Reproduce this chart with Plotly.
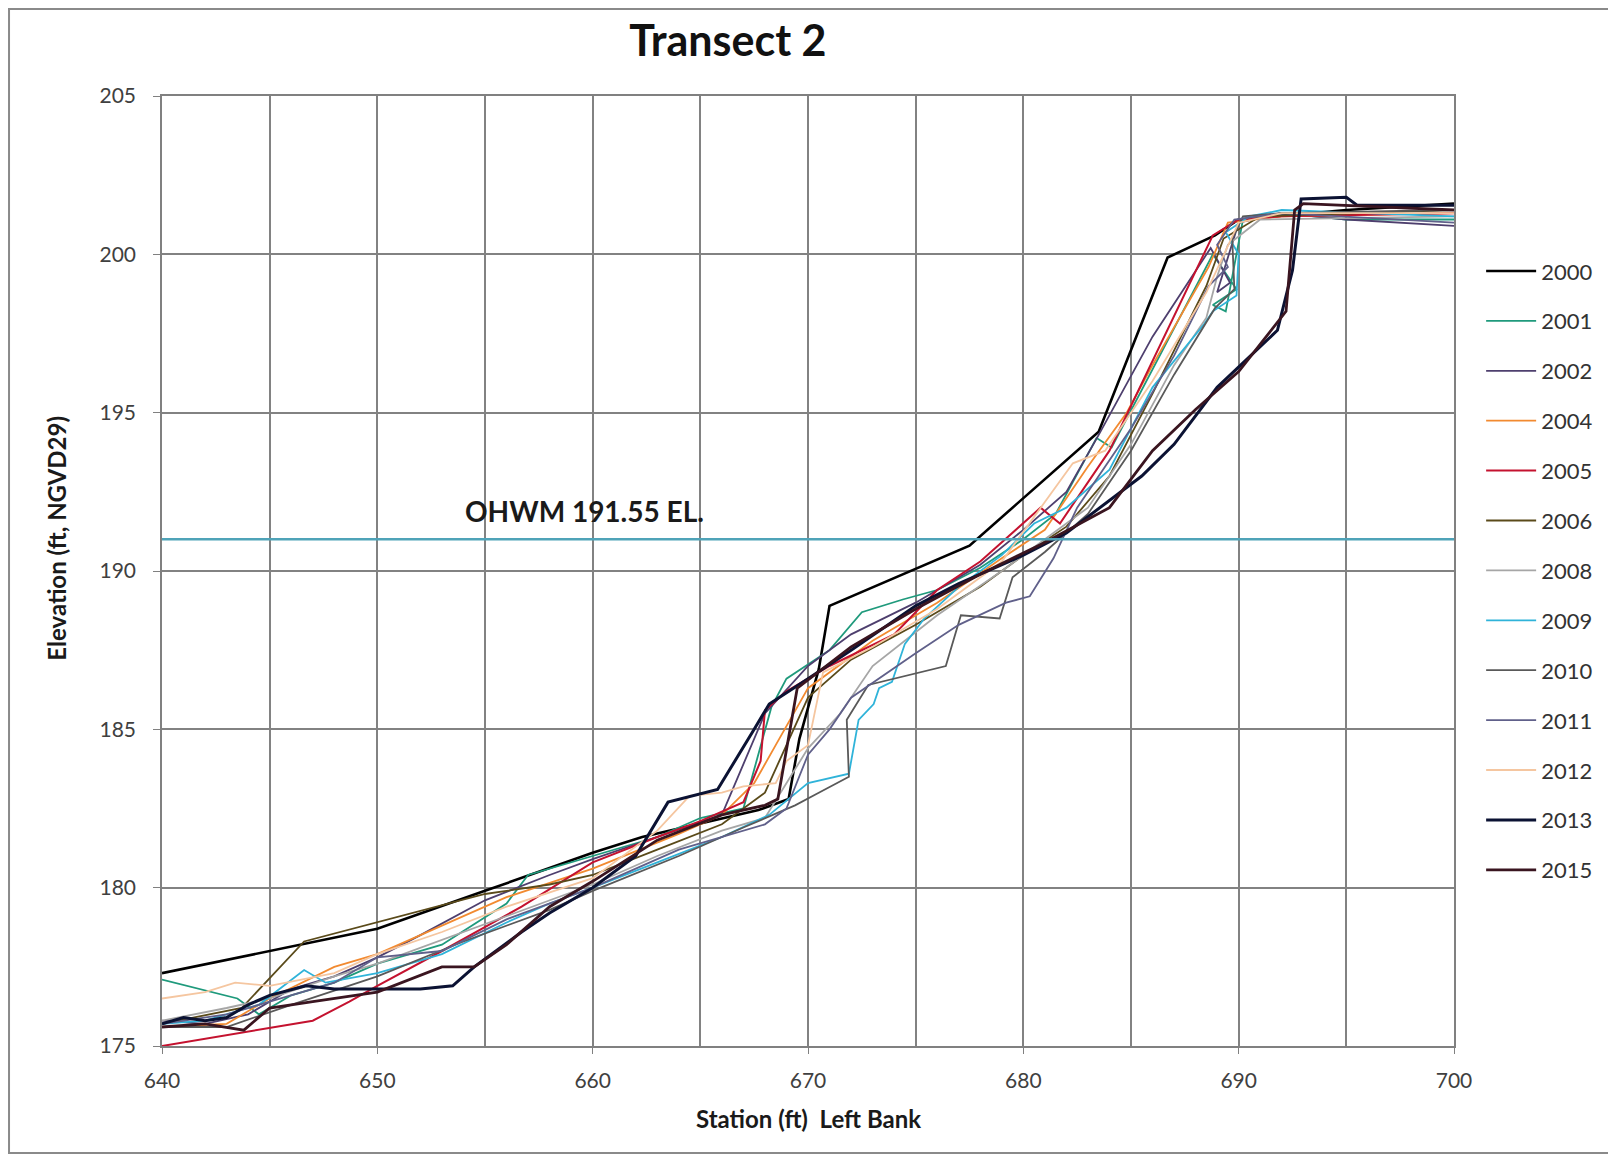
import plotly.graph_objects as go

# survey years and styling (Excel-like palette)
years = ["2000", "2001", "2002", "2004", "2005", "2006", "2008",
         "2009", "2010", "2011", "2012", "2013", "2015"]
colors = ["#000000", "#1f9a7c", "#4e3f6e", "#f28a30", "#c4122f", "#5a4a1a",
          "#a6a6a6", "#2fb3d9", "#595959", "#60608a", "#f5c6a0", "#0b1233", "#3a1520"]
widths = [2.6, 1.8, 1.8, 1.8, 2.0, 1.8, 1.8, 1.8, 1.8, 1.8, 1.8, 3.0, 2.8]

# station (ft) / elevation (ft) pairs per survey
st_2000 = [640, 650, 655, 660, 662.3, 667.7, 669.1, 669.6, 670.5, 671, 677.5, 683.5, 686.7, 688.9, 690, 695, 700]
el_2000 = [177.3, 178.7, 179.9, 181.1, 181.6, 182.45, 182.8, 184.7, 186.9, 188.9, 190.8, 194.4, 199.9, 200.6, 201.1, 201.4, 201.6]

st_2001 = [640, 643.5, 644.5, 646, 648, 650, 653, 656, 657, 660, 663, 665, 667, 668.3, 669, 671, 672.5, 674.4, 676, 678, 680, 681.5, 683.4, 684.1, 688.8, 689.9, 688.8, 689.4, 690.2, 692, 695, 700]
el_2001 = [177.1, 176.5, 176.0, 176.6, 177.0, 177.6, 178.2, 179.5, 180.4, 181.0, 181.6, 182.2, 182.5, 185.7, 186.6, 187.5, 188.7, 189.1, 189.4, 190.1, 191.0, 191.8, 194.2, 193.9, 200.0, 198.9, 198.4, 198.2, 201.1, 201.3, 201.1, 201.1]

st_2002 = [640, 642, 644, 646, 648, 650, 652, 655, 658, 660, 663, 666, 668, 670, 672, 675, 678, 680, 682, 683.5, 686, 688.7, 689.6, 689.0, 690, 692, 695, 700]
el_2002 = [175.8, 175.7, 176.0, 176.8, 177.2, 177.8, 178.5, 179.6, 180.4, 180.9, 181.6, 182.3, 185.5, 187.0, 188.0, 189.0, 190.2, 191.3, 192.5, 194.3, 197.4, 200.2, 199.1, 198.8, 201.0, 201.3, 201.1, 200.9]

st_2004 = [640, 643, 645, 648, 650, 653, 656, 660, 664, 666, 667.5, 668.5, 670, 673, 676, 679, 681, 683, 684.8, 686, 688.6, 689.5, 692, 700]
el_2004 = [175.6, 175.7, 176.5, 177.5, 177.9, 178.8, 179.7, 180.6, 181.7, 182.3, 183.3, 184.5, 186.3, 187.8, 189.0, 190.4, 191.3, 193.3, 195.0, 196.5, 199.6, 201.0, 201.2, 201.3]

st_2005 = [640, 644.5, 647, 648.7, 650, 653, 656.7, 660, 663, 665, 667, 667.8, 668, 669, 671, 674, 676, 678, 680.8, 681.7, 684, 688.8, 690, 692, 700]
el_2005 = [175.0, 175.5, 175.8, 176.4, 176.9, 178.0, 179.4, 180.8, 181.6, 182.1, 182.7, 184.0, 185.6, 186.2, 187.0, 188.0, 189.4, 190.3, 192.0, 191.5, 193.8, 200.6, 201.1, 201.2, 201.3]

st_2006 = [640, 643.7, 646.6, 650.5, 655, 658, 660, 663, 666, 668, 670, 672, 675, 678, 680, 682, 684, 686, 688.5, 689.3, 691, 700]
el_2006 = [175.7, 176.2, 178.3, 179.0, 179.8, 180.1, 180.4, 181.2, 182.0, 183.0, 186.0, 187.2, 188.3, 189.5, 190.5, 191.4, 193.0, 195.6, 199.0, 200.5, 201.2, 201.4]

st_2008 = [640, 643, 645, 648, 650, 654, 658, 660, 663, 666, 668, 670, 671.5, 673, 676, 679, 681, 683, 685, 687, 688.5, 689, 689.5, 691, 700]
el_2008 = [175.8, 176.2, 176.5, 177.2, 177.6, 178.6, 179.6, 180.1, 181.0, 181.8, 182.2, 184.4, 185.5, 187.0, 188.6, 190.0, 191.0, 192.0, 194.0, 196.5, 198.0, 199.3, 200.3, 201.1, 201.2]

st_2009 = [640, 642, 644.5, 646.6, 647.6, 650, 653, 656, 658, 660, 663, 666, 668.2, 670, 671.9, 672.35, 673.05, 673.3, 673.9, 674.5, 675.4, 677, 679, 680.5, 682, 684, 686, 688.4, 688.8, 689.9, 690.0, 689.4, 690.5, 692, 700]
el_2009 = [175.7, 175.8, 176.3, 177.4, 177.0, 177.3, 177.9, 178.9, 179.5, 180.0, 180.8, 181.6, 182.3, 183.3, 183.6, 185.3, 185.8, 186.3, 186.5, 187.7, 188.5, 189.5, 190.5, 191.5, 192.0, 193.2, 195.8, 197.8, 198.2, 198.7, 200.0, 200.7, 201.2, 201.4, 201.2]

st_2010 = [640, 643, 646, 650, 654, 658, 660, 664, 667, 669.4, 670.5, 671.9, 671.8, 672.8, 676.4, 677.1, 678.9, 679.5, 681, 683, 685, 687, 688.9, 689.8, 689.7, 690.2, 692, 700]
el_2010 = [175.6, 175.6, 176.3, 177.2, 178.3, 179.3, 179.9, 181.0, 181.9, 182.6, 183.0, 183.5, 185.3, 186.4, 187.0, 188.6, 188.5, 189.8, 190.6, 191.8, 193.8, 196.2, 198.3, 198.9, 200.5, 201.2, 201.3, 201.4]

st_2011 = [640, 643, 645, 648, 650, 653, 656, 660, 664, 668, 669, 670, 671, 672, 675, 677, 679.2, 680.3, 681.4, 682.5, 685, 687, 688.6, 689.5, 689.0, 689.8, 692, 700]
el_2011 = [175.7, 176.0, 176.4, 177.0, 177.8, 178.0, 179.0, 180.0, 181.2, 182.0, 182.5, 184.2, 185.0, 186.0, 187.4, 188.3, 189.0, 189.2, 190.4, 192.0, 194.5, 196.8, 199.0, 199.6, 200.3, 201.1, 201.3, 201.0]

st_2012 = [640, 642, 643.4, 645, 648, 650, 653, 656, 660, 663, 664.5, 666, 667, 668.5, 669, 670, 670.7, 673, 676, 679, 682.3, 683.8, 686, 688.5, 690, 692, 700]
el_2012 = [176.5, 176.7, 177.0, 176.9, 177.3, 177.9, 178.6, 179.4, 180.3, 181.8, 182.9, 183.0, 183.2, 183.3, 184.0, 184.5, 186.8, 187.6, 188.8, 190.3, 193.4, 193.8, 196.0, 198.8, 201.0, 201.3, 201.3]

st_2013 = [640, 641, 642, 643, 644, 645, 646.7, 648, 650, 652, 653.5, 654.5, 656.7, 658, 660, 662, 663.5, 665.8, 667.5, 668.2, 670, 672, 675, 677, 680, 682, 685.5, 687, 689, 691.8, 692.5, 692.9, 695, 695.5, 700]
el_2013 = [175.7, 175.9, 175.8, 175.9, 176.3, 176.6, 176.9, 176.8, 176.8, 176.8, 176.9, 177.5, 178.6, 179.2, 180.0, 181.0, 182.7, 183.1, 185.0, 185.8, 186.6, 187.5, 188.9, 189.6, 190.5, 191.2, 193.0, 194.0, 195.8, 197.6, 199.5, 201.75, 201.8, 201.55, 201.55]

st_2015 = [640, 642, 643.8, 645, 647, 650, 653, 654.5, 656, 658, 660, 663, 666, 668, 668.6, 669.5, 672, 675, 678, 681, 684, 686, 688, 690, 692.2, 692.6, 693, 700]
el_2015 = [175.6, 175.7, 175.5, 176.2, 176.4, 176.7, 177.5, 177.5, 178.2, 179.4, 180.2, 181.5, 182.3, 182.6, 182.8, 186.3, 187.6, 188.8, 189.9, 190.9, 192.0, 193.8, 195.1, 196.3, 198.2, 201.4, 201.6, 201.4]

stations = [st_2000, st_2001, st_2002, st_2004, st_2005, st_2006, st_2008,
            st_2009, st_2010, st_2011, st_2012, st_2013, st_2015]
elevations = [el_2000, el_2001, el_2002, el_2004, el_2005, el_2006, el_2008,
              el_2009, el_2010, el_2011, el_2012, el_2013, el_2015]

ohwm_level = 191.0
ohwm_label = "OHWM 191.55 EL."
ohwm_label_x = 654.0
ohwm_label_y = 191.9

x_ticks = [640, 650, 660, 670, 680, 690, 700]
y_ticks = [175, 180, 185, 190, 195, 200, 205]

FONT = "Lato, 'Open Sans', sans-serif"
GRID = "#828282"
TXT = "#1a1a1a"

fig = go.Figure()

for yr, st, el, c, w in zip(years, stations, elevations, colors, widths):
    fig.add_trace(go.Scatter(
        x=st,
        y=el,
        mode='lines',
        line=dict(color=c, width=w),
        name=yr,
        legendgroup=yr
    ))

# ordinary high water mark
fig.add_hline(y=ohwm_level, line=dict(color="#4fa3b8", width=2.5), layer="above")
fig.add_annotation(
    x=ohwm_label_x, y=ohwm_label_y, xref="x", yref="y",
    text="<b>" + ohwm_label + "</b>", showarrow=False,
    xanchor="left", yanchor="middle",
    font=dict(family=FONT, size=28, color=TXT)
)

# axis titles (placed like the Excel chart, y title sits above centre)
fig.add_annotation(
    x=-0.0813, y=0.535, xref="paper", yref="paper",
    text="<b>Elevation (ft, NGVD29)</b>", showarrow=False, textangle=-90,
    xanchor="center", yanchor="middle",
    font=dict(family=FONT, size=24, color=TXT)
)
fig.add_annotation(
    x=0.5, y=-0.0768, xref="paper", yref="paper",
    text="<b>Station (ft)\u00a0\u00a0Left Bank</b>", showarrow=False,
    xanchor="center", yanchor="middle",
    font=dict(family=FONT, size=24, color=TXT)
)

# outer chart border
fig.add_shape(
    type="rect", xref="paper", yref="paper",
    x0=-0.1184, x1=1.1207, y0=-0.1126, y1=1.0916,
    line=dict(color="#8a8a8a", width=2)
)

fig.update_layout(
    width=1608,
    height=1147,
    margin=dict(l=154, r=162, t=88, b=109),
    paper_bgcolor="white",
    plot_bgcolor="white",
    title=dict(
        text="<b>Transect 2</b>",
        x=0.438, xref="paper", xanchor="center",
        y=1 - 33 / 1147, yref="container", yanchor="middle",
        font=dict(family=FONT, size=43, color="#111111")
    ),
    legend=dict(
        x=1.021, xanchor="left",
        y=0.8377, yanchor="top",
        font=dict(family=FONT, size=22, color="#333333"),
        tracegroupgap=18.3,
        traceorder="grouped",
        itemwidth=50,
        bgcolor="rgba(0,0,0,0)"
    ),
    showlegend=True
)

fig.update_xaxes(
    range=[640, 700],
    tickvals=x_ticks,
    showgrid=True, gridcolor=GRID, gridwidth=1.6,
    minor=dict(dtick=5, tick0=640, showgrid=True, gridcolor=GRID, gridwidth=1.6),
    showline=True, linecolor="#808080", linewidth=1.6, mirror=True,
    ticks="outside", ticklen=6, tickcolor="#808080",
    ticklabelstandoff=9,
    tickfont=dict(family=FONT, size=21, color="#404040"),
    zeroline=False
)

fig.update_yaxes(
    range=[175, 205],
    tickvals=y_ticks,
    showgrid=True, gridcolor=GRID, gridwidth=1.6,
    showline=True, linecolor="#808080", linewidth=1.6, mirror=True,
    ticks="outside", ticklen=7, tickcolor="#808080",
    ticklabelstandoff=13,
    tickfont=dict(family=FONT, size=21, color="#404040"),
    zeroline=False
)

fig.write_html("out.html")
